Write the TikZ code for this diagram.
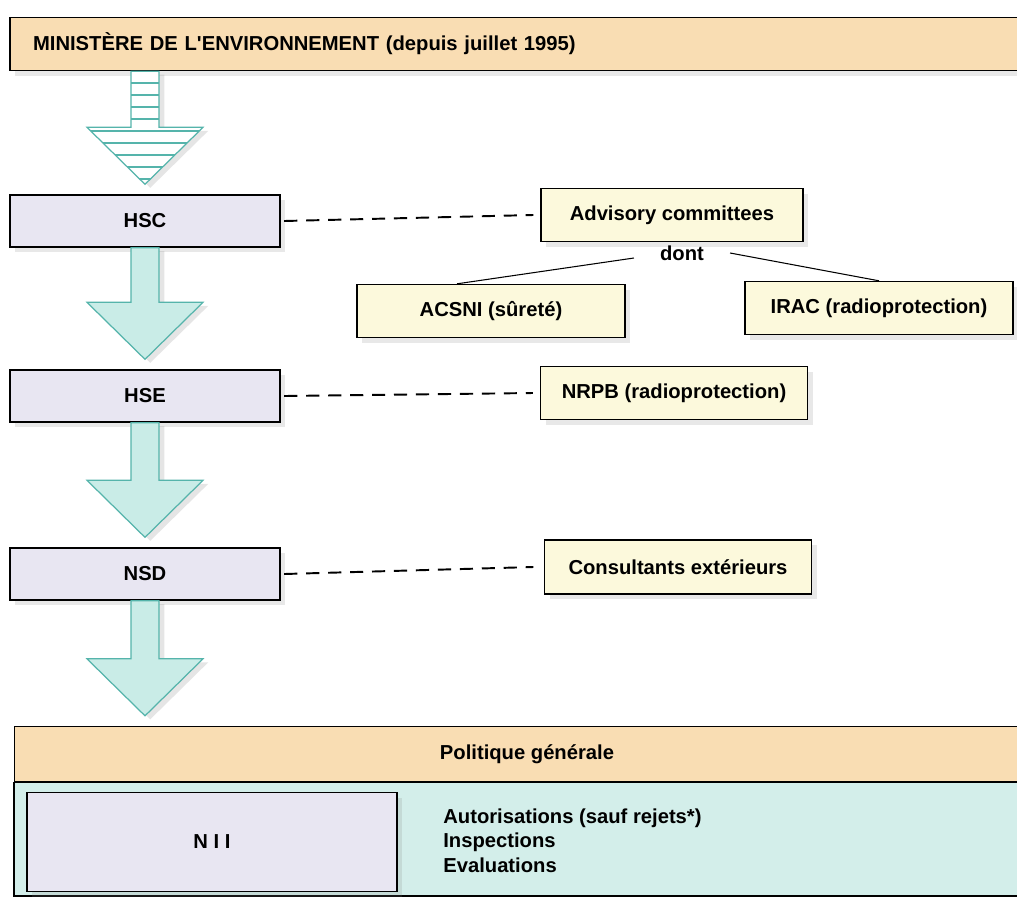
\documentclass[tikz,border=0pt]{standalone}
\usepackage{fontspec}
\setmainfont{Liberation Sans}[Ligatures=TeXOff]
\usetikzlibrary{positioning,calc,shadows}
\definecolor{tanfill}{HTML}{F9DDB3}
\definecolor{lavfill}{HTML}{E8E6F2}
\definecolor{yelfill}{HTML}{FCF9DC}
\definecolor{tealfill}{HTML}{D3EEEA}
\definecolor{arrowfill}{HTML}{C9ECE7}
\definecolor{tealline}{HTML}{55B4AB}

\newcommand{\flowarrow}[3][]{%
  \path[#1] let \p1=(#2), \p2=(#3) in
    (\x2-0.28cm,\y1) -- (\x2+0.28cm,\y1) -- (\x2+0.28cm,\y2+1.34cm)
    -- (\x2+1.16cm,\y2+1.34cm) -- (\x2,\y2+0.2cm) -- (\x2-1.16cm,\y2+1.34cm)
    -- (\x2-0.28cm,\y2+1.34cm) -- cycle;}

\begin{document}
\begin{tikzpicture}[x=0.02cm,y=-0.02cm,font=\fontsize{11.5}{13}\selectfont\bfseries,
  box/.style={draw,line width=0.8pt,inner sep=0pt,
    drop shadow={opacity=0.18,shadow xshift=3pt,shadow yshift=-3pt}},
  tanbox/.style={box,fill=tanfill},
  lavbox/.style={box,fill=lavfill,minimum width=5.4cm,minimum height=1.04cm},
  yelbox/.style={box,fill=yelfill,minimum width=5.34cm,minimum height=1.06cm},
  flow/.style={fill=arrowfill,draw=tealline,line width=0.7pt,
    drop shadow={opacity=0.2,shadow xshift=3pt,shadow yshift=-2pt}},
  hatched/.style={fill=white,draw=tealline,line width=0.7pt,
    drop shadow={opacity=0.2,shadow xshift=3pt,shadow yshift=-2pt},
    path picture={\foreach \k in {1,...,9}
      \draw[tealline,line width=0.8pt] ([yshift=-\k*0.24cm]path picture bounding box.north west)
        -- ([yshift=-\k*0.24cm]path picture bounding box.north east);}},
  link/.style={line width=1.1pt,dash pattern=on 7.5pt off 5pt}]
\useasboundingbox[fill=white] (0,0) rectangle (1017,900);

% Top band
\node[tanbox,minimum width=20.4cm,minimum height=1.06cm,inner xsep=0.46cm,
  text width=19.48cm,align=left] (ministere) at (520,44)
  {MINISTÈRE DE L'ENVIRONNEMENT (depuis juillet 1995)};

% Chain of bodies
\node[lavbox] (hsc) at (145,221) {HSC};
\node[lavbox] (hse) at (145,396) {HSE};
\node[lavbox] (nsd) at (145,574) {NSD};

% Advisers
\node[yelbox,minimum width=5.24cm] (advisory) at (672,215) {Advisory committees};
\node (dont) at (682,253) {dont};
\node[yelbox,minimum width=5.36cm] (acsni) at (491,311) {ACSNI (sûreté)};
\node[yelbox,minimum width=5.36cm] (irac) at (879,308) {IRAC (radioprotection)};
\node[yelbox] (nrpb) at (674,393) {NRPB (radioprotection)};
\node[yelbox,minimum height=1.08cm] (consult) at (678,567) {Consultants extérieurs};

% Bottom block
\node[tanbox,minimum width=20.5cm,minimum height=1.1cm] (politique) at (527,754)
  {Politique générale};
\draw[line width=0.8pt,fill=tealfill] (politique.south west) rectangle (1040,896);
\node[lavbox,minimum width=7.4cm,minimum height=1.98cm] (nii) at (212,842) {N I I};
\node[anchor=north west,align=left,inner sep=0pt,
  font=\fontsize{11.5}{14.2}\selectfont\bfseries] (missions) at (443,808)
  {Autorisations (sauf rejets*)\\Inspections\\Evaluations};

% Block arrows
\flowarrow[hatched]{ministere.south -| hsc.north}{hsc.north}
\flowarrow[flow]{hsc.south}{hse.north}
\flowarrow[flow]{hse.south}{nsd.north}
\flowarrow[flow]{nsd.south}{politique.north -| nsd.south}

% Links
\draw[link] ([xshift=2pt]hsc.east) -- ([xshift=-4pt]advisory.west);
\draw[link] ([xshift=2pt]hse.east) -- ([xshift=-4pt]nrpb.west);
\draw[link] ([xshift=2pt]nsd.east) -- ([xshift=-6pt]consult.west);
\draw[line width=0.6pt] ([xshift=-0.4cm,yshift=-0.1cm]dont.west) -- ([xshift=-0.68cm]acsni.north);
\draw[line width=0.6pt] ([xshift=0.4cm]dont.east) -- (irac.north);
\end{tikzpicture}
\end{document}
